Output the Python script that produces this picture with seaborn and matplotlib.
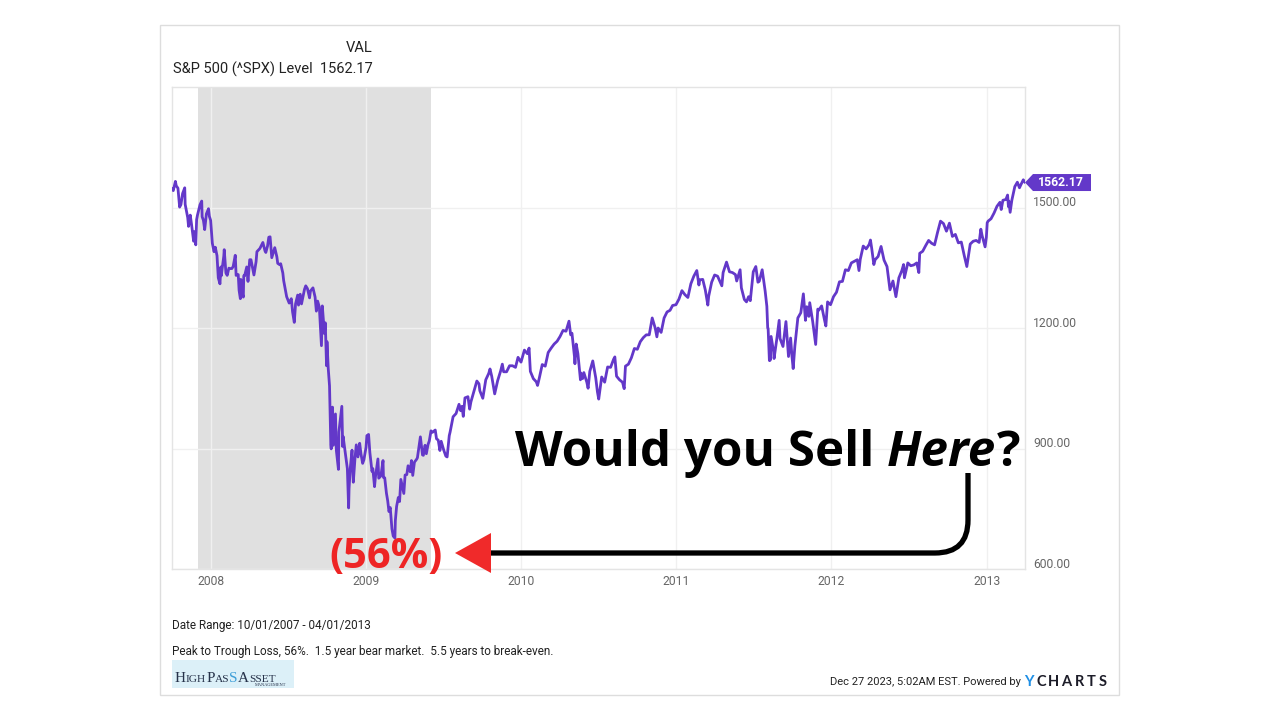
import numpy as np
import pandas as pd
import matplotlib
matplotlib.use("Agg")
import matplotlib.pyplot as plt
import matplotlib.dates as mdates
import seaborn as sns
from matplotlib.patches import Rectangle, Polygon, PathPatch
from matplotlib.path import Path
from matplotlib.transforms import ScaledTranslation, IdentityTransform

# ---------------- data (S&P 500 level) ----------------
dates_2007 = ["2007-10-01", "2007-10-04", "2007-10-09", "2007-10-11", "2007-10-15", "2007-10-19",
              "2007-10-22", "2007-10-26", "2007-10-31", "2007-11-01", "2007-11-07", "2007-11-09",
              "2007-11-13", "2007-11-16", "2007-11-21", "2007-11-23", "2007-11-26", "2007-11-28",
              "2007-11-30", "2007-12-06", "2007-12-10", "2007-12-11", "2007-12-14", "2007-12-17",
              "2007-12-21", "2007-12-26", "2007-12-28", "2007-12-31"]
spx_2007 = [1547, 1542, 1565, 1554, 1548, 1501,
            1507, 1535, 1549, 1508, 1475, 1453,
            1481, 1458, 1416, 1440, 1407, 1470,
            1481, 1507, 1516, 1477, 1468, 1445,
            1484, 1497, 1478, 1468]

dates_2008 = ["2008-01-04", "2008-01-08", "2008-01-11", "2008-01-15", "2008-01-18", "2008-01-22",
              "2008-01-24", "2008-01-25", "2008-01-31", "2008-02-01", "2008-02-05", "2008-02-08",
              "2008-02-12", "2008-02-14", "2008-02-19", "2008-02-22", "2008-02-27", "2008-02-29",
              "2008-03-05", "2008-03-07", "2008-03-10", "2008-03-11", "2008-03-14", "2008-03-17",
              "2008-03-18", "2008-03-20", "2008-03-25", "2008-03-28", "2008-04-01", "2008-04-04",
              "2008-04-11", "2008-04-16", "2008-04-18", "2008-04-25", "2008-05-02", "2008-05-07",
              "2008-05-09", "2008-05-13", "2008-05-16", "2008-05-19", "2008-05-23", "2008-05-30",
              "2008-06-04", "2008-06-06", "2008-06-10", "2008-06-13", "2008-06-18", "2008-06-20",
              "2008-06-27", "2008-07-03", "2008-07-08", "2008-07-11", "2008-07-15", "2008-07-18",
              "2008-07-23", "2008-07-25", "2008-07-29", "2008-08-01", "2008-08-08", "2008-08-11",
              "2008-08-15", "2008-08-20", "2008-08-22", "2008-08-28", "2008-09-02", "2008-09-05",
              "2008-09-08", "2008-09-12", "2008-09-15", "2008-09-17", "2008-09-19", "2008-09-24",
              "2008-09-26", "2008-09-29", "2008-09-30", "2008-10-03", "2008-10-06", "2008-10-09",
              "2008-10-10", "2008-10-13", "2008-10-15", "2008-10-17", "2008-10-20", "2008-10-22",
              "2008-10-24", "2008-10-27", "2008-10-28", "2008-10-31", "2008-11-04", "2008-11-06",
              "2008-11-07", "2008-11-11", "2008-11-14", "2008-11-17", "2008-11-20", "2008-11-21",
              "2008-11-24", "2008-11-28", "2008-12-01", "2008-12-05", "2008-12-08", "2008-12-12",
              "2008-12-16", "2008-12-19", "2008-12-23", "2008-12-26", "2008-12-31"]
spx_2008 = [1411, 1390, 1401, 1380, 1325, 1310,
            1352, 1330, 1379, 1395, 1337, 1331,
            1349, 1348, 1348, 1353, 1381, 1331,
            1333, 1294, 1273, 1321, 1288, 1277,
            1330, 1330, 1352, 1316, 1370, 1370,
            1332, 1365, 1390, 1398, 1413, 1392,
            1388, 1404, 1426, 1427, 1375, 1400,
            1377, 1361, 1358, 1360, 1337, 1318,
            1278, 1262, 1273, 1240, 1214, 1260,
            1282, 1257, 1284, 1260, 1296, 1305,
            1298, 1275, 1292, 1300, 1277, 1242,
            1267, 1252, 1193, 1156, 1255, 1186,
            1213, 1106, 1166, 1099, 1056, 910,
            899, 1003, 908, 940, 986, 896,
            877, 848, 941, 968, 1005, 905,
            930, 898, 873, 850, 752, 800,
            852, 896, 816, 876, 909, 879,
            913, 887, 863, 872, 903]

dates_2009 = ["2009-01-02", "2009-01-06", "2009-01-09", "2009-01-14", "2009-01-16", "2009-01-20",
              "2009-01-22", "2009-01-28", "2009-01-30", "2009-02-04", "2009-02-09", "2009-02-10",
              "2009-02-13", "2009-02-17", "2009-02-20", "2009-02-23", "2009-02-26", "2009-03-02",
              "2009-03-05", "2009-03-09", "2009-03-10", "2009-03-13", "2009-03-17", "2009-03-20",
              "2009-03-23", "2009-03-30", "2009-04-02", "2009-04-06", "2009-04-09", "2009-04-14",
              "2009-04-17", "2009-04-20", "2009-04-24", "2009-04-29", "2009-05-01", "2009-05-08",
              "2009-05-13", "2009-05-15", "2009-05-19", "2009-05-22", "2009-05-26", "2009-05-29",
              "2009-06-02", "2009-06-05", "2009-06-12", "2009-06-15", "2009-06-19", "2009-06-23",
              "2009-06-26", "2009-07-02", "2009-07-07", "2009-07-10", "2009-07-15", "2009-07-17",
              "2009-07-24", "2009-07-31", "2009-08-07", "2009-08-11", "2009-08-14", "2009-08-17",
              "2009-08-21", "2009-08-28", "2009-09-01", "2009-09-04", "2009-09-11", "2009-09-18",
              "2009-09-23", "2009-09-25", "2009-10-02", "2009-10-09", "2009-10-16", "2009-10-19",
              "2009-10-23", "2009-10-30", "2009-11-06", "2009-11-13", "2009-11-17", "2009-11-20",
              "2009-11-27", "2009-12-04", "2009-12-11", "2009-12-18", "2009-12-24", "2009-12-31"]
spx_2009 = [932, 935, 890, 843, 850, 805,
            828, 874, 826, 832, 870, 828,
            827, 789, 770, 743, 753, 700,
            682, 677, 720, 756, 778, 768,
            823, 788, 834, 835, 857, 842,
            870, 833, 866, 873, 877, 929,
            884, 883, 908, 887, 910, 919,
            944, 940, 946, 924, 921, 895,
            918, 896, 881, 879, 932, 941,
            979, 987, 1010, 994, 1005, 980,
            1026, 1029, 998, 1016, 1042, 1068,
            1061, 1044, 1025, 1071, 1087, 1098,
            1080, 1036, 1069, 1093, 1110, 1091,
            1091, 1106, 1106, 1102, 1127, 1115]

dates_2010 = ["2010-01-08", "2010-01-15", "2010-01-19", "2010-01-22", "2010-01-29", "2010-02-05",
              "2010-02-08", "2010-02-12", "2010-02-19", "2010-02-26", "2010-03-05", "2010-03-12",
              "2010-03-19", "2010-03-26", "2010-04-02", "2010-04-09", "2010-04-16", "2010-04-23",
              "2010-04-27", "2010-04-30", "2010-05-06", "2010-05-07", "2010-05-10", "2010-05-14",
              "2010-05-20", "2010-05-21", "2010-05-25", "2010-05-28", "2010-06-04", "2010-06-07",
              "2010-06-11", "2010-06-18", "2010-06-25", "2010-06-29", "2010-07-02", "2010-07-09",
              "2010-07-16", "2010-07-23", "2010-07-30", "2010-08-06", "2010-08-09", "2010-08-13",
              "2010-08-20", "2010-08-27", "2010-08-31", "2010-09-03", "2010-09-10", "2010-09-17",
              "2010-09-24", "2010-10-01", "2010-10-08", "2010-10-15", "2010-10-22", "2010-10-29",
              "2010-11-05", "2010-11-12", "2010-11-16", "2010-11-19", "2010-11-26", "2010-12-03",
              "2010-12-10", "2010-12-17", "2010-12-23", "2010-12-31"]
spx_2010 = [1145, 1136, 1150, 1092, 1074, 1066,
            1057, 1075, 1109, 1105, 1139, 1150,
            1160, 1167, 1179, 1194, 1192, 1217,
            1183, 1187, 1128, 1111, 1160, 1136,
            1071, 1088, 1074, 1089, 1065, 1050,
            1092, 1118, 1076, 1041, 1023, 1078,
            1065, 1103, 1102, 1122, 1128, 1080,
            1071, 1065, 1049, 1105, 1110, 1126,
            1149, 1147, 1166, 1176, 1183, 1183,
            1225, 1200, 1178, 1200, 1189, 1225,
            1240, 1244, 1256, 1258]

dates_2011 = ["2011-01-07", "2011-01-14", "2011-01-21", "2011-01-28", "2011-02-04", "2011-02-11",
              "2011-02-18", "2011-02-23", "2011-02-25", "2011-03-04", "2011-03-10", "2011-03-16",
              "2011-03-18", "2011-03-25", "2011-04-01", "2011-04-08", "2011-04-18", "2011-04-21",
              "2011-04-29", "2011-05-06", "2011-05-13", "2011-05-20", "2011-05-23", "2011-05-31",
              "2011-06-03", "2011-06-10", "2011-06-15", "2011-06-20", "2011-06-24", "2011-07-01",
              "2011-07-07", "2011-07-12", "2011-07-15", "2011-07-22", "2011-07-29", "2011-08-02",
              "2011-08-04", "2011-08-05", "2011-08-08", "2011-08-09", "2011-08-10", "2011-08-12",
              "2011-08-18", "2011-08-19", "2011-08-26", "2011-08-31", "2011-09-02", "2011-09-09",
              "2011-09-16", "2011-09-22", "2011-09-27", "2011-09-30", "2011-10-03", "2011-10-07",
              "2011-10-14", "2011-10-21", "2011-10-27", "2011-11-01", "2011-11-04", "2011-11-09",
              "2011-11-11", "2011-11-18", "2011-11-25", "2011-11-30", "2011-12-02", "2011-12-09",
              "2011-12-16", "2011-12-19", "2011-12-23", "2011-12-30"]
spx_2011 = [1272, 1293, 1283, 1276, 1310, 1329,
            1343, 1307, 1320, 1321, 1295, 1257,
            1279, 1314, 1332, 1329, 1305, 1338,
            1364, 1340, 1338, 1333, 1317, 1345,
            1300, 1271, 1265, 1278, 1268, 1340,
            1353, 1314, 1316, 1345, 1292, 1254,
            1200, 1199, 1119, 1172, 1120, 1179,
            1140, 1124, 1177, 1219, 1174, 1154,
            1216, 1129, 1175, 1131, 1099, 1155,
            1225, 1238, 1285, 1219, 1253, 1229,
            1263, 1216, 1159, 1247, 1244, 1255,
            1219, 1205, 1265, 1258]

dates_2012 = ["2012-01-06", "2012-01-13", "2012-01-20", "2012-01-27", "2012-02-03", "2012-02-10",
              "2012-02-17", "2012-02-24", "2012-03-02", "2012-03-06", "2012-03-09", "2012-03-16",
              "2012-03-23", "2012-03-30", "2012-04-02", "2012-04-05", "2012-04-10", "2012-04-13",
              "2012-04-20", "2012-04-27", "2012-05-04", "2012-05-11", "2012-05-18", "2012-05-25",
              "2012-06-01", "2012-06-08", "2012-06-15", "2012-06-19", "2012-06-21", "2012-06-29",
              "2012-07-06", "2012-07-13", "2012-07-20", "2012-07-25", "2012-07-27", "2012-08-03",
              "2012-08-10", "2012-08-17", "2012-08-24", "2012-08-31", "2012-09-07", "2012-09-14",
              "2012-09-21", "2012-09-28", "2012-10-05", "2012-10-12", "2012-10-19", "2012-10-26",
              "2012-11-02", "2012-11-09", "2012-11-15", "2012-11-16", "2012-11-23", "2012-11-30",
              "2012-12-07", "2012-12-14", "2012-12-18", "2012-12-21", "2012-12-28", "2012-12-31"]
spx_2012 = [1278, 1289, 1315, 1316, 1345, 1343,
            1362, 1366, 1370, 1343, 1371, 1404,
            1397, 1408, 1419, 1398, 1358, 1370,
            1378, 1403, 1369, 1353, 1295, 1317,
            1278, 1325, 1343, 1358, 1325, 1362,
            1355, 1357, 1362, 1338, 1386, 1391,
            1405, 1418, 1411, 1407, 1438, 1466,
            1460, 1441, 1461, 1428, 1433, 1412,
            1414, 1380, 1353, 1360, 1409, 1416,
            1418, 1413, 1446, 1430, 1402, 1426]

dates_2013 = ["2013-01-02", "2013-01-04", "2013-01-11", "2013-01-18", "2013-01-25", "2013-02-01",
              "2013-02-04", "2013-02-08", "2013-02-15", "2013-02-19", "2013-02-21", "2013-02-22",
              "2013-02-25", "2013-03-01", "2013-03-08", "2013-03-14", "2013-03-19", "2013-03-22",
              "2013-03-28", "2013-04-01"]
spx_2013 = [1462, 1466, 1472, 1486, 1503, 1513,
            1495, 1518, 1520, 1531, 1502, 1516,
            1488, 1518, 1552, 1563, 1549, 1556,
            1569, 1562.17]

year_ticks = ["2008", "2009", "2010", "2011", "2012", "2013"]
y_ticks = [600, 900, 1200, 1500]
recession = ("2007-12-01", "2009-06-01")
x_range = ("2007-10-01", "2013-04-01")
y_range = (600, 1800)
last_value = 1562.17

dates = dates_2007 + dates_2008 + dates_2009 + dates_2010 + dates_2011 + dates_2012 + dates_2013
spx = spx_2007 + spx_2008 + spx_2009 + spx_2010 + spx_2011 + spx_2012 + spx_2013
df = pd.DataFrame({"date": pd.to_datetime(dates), "level": spx})

# ---------------- figure ----------------
W, H = 1280, 720
sns.set_theme(style="white")
plt.rcParams["font.family"] = ["Roboto", "DejaVu Sans"]

fig = plt.figure(figsize=(12.8, 7.2), dpi=100, facecolor="white")

def fx(x):
    return x / W

def fy(y):
    return 1 - y / H

ax = fig.add_axes([fx(172), fy(569), fx(1025) - fx(172), fy(87) - fy(569)])
ax.set_facecolor("white")

ax.axvspan(pd.Timestamp(recession[0]), pd.Timestamp(recession[1]), color="#e0e0e0", lw=0, zorder=0)
sns.lineplot(data=df, x="date", y="level", ax=ax, color="#6338c9", linewidth=2.0, zorder=3)

ax.set_xlim(pd.Timestamp(x_range[0]), pd.Timestamp(x_range[1]))
ax.set_ylim(*y_range)
ax.set_xlabel("")
ax.set_ylabel("")

ax.set_xticks([pd.Timestamp(f"{y}-01-01") for y in year_ticks])
ax.set_xticklabels(year_ticks)
ax.set_yticks(y_ticks)
ax.set_yticklabels([f"{v:.2f}" for v in y_ticks])
ax.yaxis.tick_right()
ax.tick_params(axis="y", length=0, pad=6.0, labelsize=8.7, labelcolor="#666666")
ax.tick_params(axis="x", length=0, pad=4.5, labelsize=8.7, labelcolor="#666666")
for lab in ax.get_yticklabels():
    lab.set_transform(lab.get_transform() + ScaledTranslation(0, 4.5 / 72, fig.dpi_scale_trans))

ax.set_axisbelow(True)
ax.grid(True, color="#f0f0f0", linewidth=1.0, zorder=0.5)
for s in ax.spines.values():
    s.set_color("#e4e4e4")
    s.set_linewidth(1.0)

# ---------------- outer frame ----------------
fig.add_artist(Rectangle((fx(160), fy(695)), fx(1119) - fx(160), fy(25) - fy(695),
                         transform=fig.transFigure, fill=False, edgecolor="#dddddd", lw=1.0))

# ---------------- header ----------------
fig.text(fx(373), fy(48), "VAL", ha="right", va="center", fontsize=10.5, color="#222222")
fig.text(fx(173), fy(69), "S&P 500 (^SPX) Level  1562.17", ha="left", va="center",
         fontsize=10.5, color="#222222")

# ---------------- last-value tag ----------------
fig.canvas.draw()
renderer = fig.canvas.get_renderer()
last_date = pd.Timestamp(dates[-1])
px, py = ax.transData.transform((mdates.date2num(last_date), last_value))
right_px = ax.transAxes.transform((1, 0))[0]
tag = Polygon([(right_px, py), (right_px + 8, py + 8.5), (right_px + 66, py + 8.5),
               (right_px + 66, py - 8.5), (right_px + 8, py - 8.5)],
              closed=True, transform=IdentityTransform(), facecolor="#6338c9", edgecolor="none")
fig.add_artist(tag)
fig.text((right_px + 36) / W, py / H, f"{last_value:.2f}", ha="center", va="center",
         fontsize=8.8, fontweight="bold", color="white")

# ---------------- footer ----------------
fig.text(fx(172), fy(626), "Date Range: 10/01/2007 - 04/01/2013", ha="left", va="center",
         fontsize=8.5, color="#222222")
fig.text(fx(172), fy(651), "Peak to Trough Loss, 56%.  1.5 year bear market.  5.5 years to break-even.",
         ha="left", va="center", fontsize=8.5, color="#222222")
fig.text(fx(1021), fy(682), "Dec 27 2023, 5:02AM EST. Powered by", ha="right", va="center",
         fontsize=8.0, color="#222222")
for ch, cx, col in zip("YCHARTS", [1029, 1041, 1053, 1066, 1079, 1091, 1103],
                       ["#1f8fe5", "#1c1c28", "#1c1c28", "#1c1c28", "#1c1c28", "#1c1c28", "#1c1c28"]):
    fig.text(fx(cx), fy(682), ch, ha="center", va="center", fontsize=10.5, fontweight="bold",
             color=col, family=["Lato", "DejaVu Sans"])

# logo
fig.add_artist(Rectangle((fx(172), fy(688)), fx(294) - fx(172), fy(660) - fy(688),
                         transform=fig.transFigure, facecolor="#dcf0f8", edgecolor="none"))

def runs(pieces, x0, ybase):
    x = x0
    for s, kw in pieces:
        t = fig.text(fx(x), fy(ybase), s, ha="left", va="baseline", **kw)
        bb = t.get_window_extent(renderer)
        x += bb.width
    return x

serif = ["Liberation Serif", "DejaVu Serif"]
big = dict(fontsize=11, color="#26324a", family=serif)
small = dict(fontsize=8.2, color="#26324a", family=serif)
blue = dict(fontsize=11, color="#3f9fd8", family=serif)
runs([("H", big), ("IGH", small), ("P", big), ("AS", small), ("S", blue),
      ("A", big), ("SSET", small)], 175, 682)
fig.text(fx(286), fy(686), "MANAGEMENT", ha="right", va="baseline", fontsize=3.2,
         color="#26324a", family=serif)

# ---------------- annotation ----------------
bigfont = ["Open Sans", "DejaVu Sans"]
bold = dict(fontsize=35.5, fontweight="bold", color="black", family=bigfont)
boldit = dict(fontsize=35.5, fontweight="bold", style="italic", color="black", family=bigfont)
xend = runs([("Would you Sell ", bold), ("Here", boldit), ("?", bold)], 515, 466)

fig.text(fx(386), fy(557), "(56%)", ha="center", va="center", fontsize=30, fontweight="bold",
         color="#ee2424", family=bigfont)

verts = [(968, 473), (968, 520), (968, 553), (935, 553), (491, 553)]
codes = [Path.MOVETO, Path.LINETO, Path.CURVE3, Path.CURVE3, Path.LINETO]
path = Path([(x, H - y) for x, y in verts], codes)
fig.add_artist(PathPatch(path, transform=IdentityTransform(), fill=False, edgecolor="black",
                         lw=3.8, capstyle="butt"))
fig.add_artist(Polygon([(455, H - 553), (491, H - 533), (491, H - 573)], closed=True,
                       transform=IdentityTransform(), facecolor="#f02a2a", edgecolor="none"))

fig.savefig("out.png", dpi=100, facecolor="white")
